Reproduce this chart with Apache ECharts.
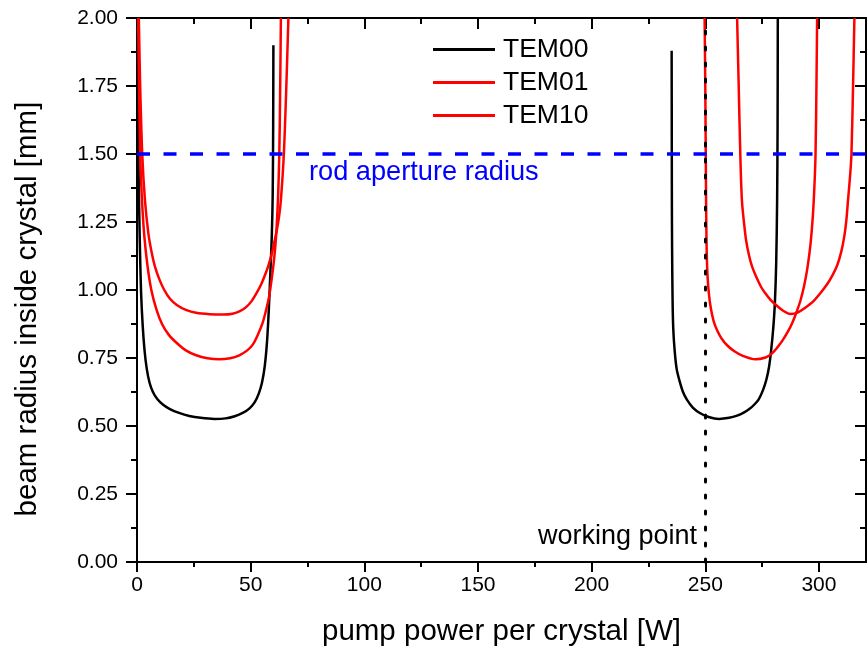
<!DOCTYPE html>
<html><head><meta charset="utf-8">
<script src="https://cdn.jsdelivr.net/npm/echarts@6/dist/echarts.min.js"></script>
<style>html,body{margin:0;padding:0;background:#fff}#c{width:867px;height:649px}</style>
</head><body><div id="c"></div>
<script>
// ---- data ----
const xMajorTicks = [0, 50, 100, 150, 200, 250, 300];
const xMinorTicks = [25, 75, 125, 175, 225, 275];
const seriesNames = ['TEM00', 'TEM01', 'TEM10'];
const apertureRadius = 1.5;
const workingPoint = 250;

const tem00Left = [[0.2,2.0],[0.4,1.7],[0.6,1.5],[0.9,1.33],[1.3,1.15],[1.8,0.99],[2.5,0.87],[3.3,0.78],[4.3,0.71],[5.5,0.66],[7.0,0.625],[9.0,0.598],[11.5,0.578],[14.5,0.562],[18.5,0.548],[23,0.537],[28,0.530],[34,0.526],[39,0.528],[43,0.536],[46.5,0.548],[49.5,0.565],[51.8,0.588],[53.6,0.62],[55.0,0.66],[56.2,0.72],[57.2,0.81],[58.0,0.93],[58.7,1.07],[59.3,1.2],[59.7,1.35],[59.9,1.6],[60.0,1.9]];
const tem00Right = [[235.2,1.88],[235.25,1.6],[235.3,1.33],[235.4,1.15],[235.6,0.97],[235.9,0.86],[236.5,0.78],[237.4,0.71],[238.7,0.665],[240.2,0.625],[241.9,0.597],[244.5,0.568],[247.8,0.547],[251.5,0.533],[256,0.526],[260.5,0.53],[264,0.538],[266.9,0.549],[269.5,0.563],[271.7,0.58],[273.5,0.598],[275.3,0.63],[276.8,0.668],[278.0,0.715],[279.0,0.78],[279.9,0.86],[280.6,0.95],[281.2,1.1],[281.6,1.33],[281.8,1.6],[281.9,2.0]];

const tem01Left = [[0.5,2.0],[0.9,1.75],[1.4,1.5],[2.2,1.33],[3.2,1.2],[4.6,1.09],[6.3,1.0],[8.5,0.93],[11.0,0.875],[14.0,0.835],[17.5,0.805],[21.5,0.778],[26,0.76],[31,0.749],[36,0.745],[41,0.749],[45,0.76],[48.5,0.778],[51.0,0.80],[53.4,0.84],[55.3,0.88],[56.9,0.93],[58.2,0.98],[59.4,1.05],[60.4,1.12],[61.2,1.2],[62.0,1.33],[62.6,1.5],[63.0,1.75],[63.3,2.0]];
const tem01Right = [[249.7,2.0],[250.0,1.75],[250.2,1.5],[250.35,1.33],[250.6,1.15],[251.0,1.05],[251.6,0.985],[252.5,0.93],[253.7,0.885],[255.3,0.85],[257.3,0.82],[259.8,0.795],[262.8,0.775],[266.5,0.758],[272,0.745],[276.5,0.752],[279.5,0.768],[281.8,0.79],[284.0,0.815],[286.2,0.845],[288.3,0.88],[290.2,0.92],[292.0,0.965],[293.6,1.02],[295.0,1.085],[296.3,1.17],[297.3,1.27],[298.0,1.38],[298.5,1.5],[298.9,1.75],[299.2,2.0]];

const tem10Left = [[0.8,2.0],[1.4,1.75],[2.3,1.5],[3.5,1.33],[5.0,1.208],[6.4,1.14],[7.9,1.086],[9.8,1.04],[12.0,1.0],[14.5,0.968],[17.5,0.945],[21.5,0.927],[26,0.916],[32,0.911],[38,0.91],[42,0.913],[45.3,0.922],[48,0.937],[50.5,0.96],[52.7,0.99],[54.6,1.02],[56.3,1.055],[57.8,1.09],[59.2,1.13],[60.5,1.18],[61.5,1.22],[62.5,1.27],[63.3,1.33],[64.6,1.5],[65.7,1.75],[66.6,2.0]];
const tem10Right = [[264.0,2.0],[264.7,1.75],[265.4,1.5],[266.1,1.331],[267.0,1.25],[268.0,1.18],[269.3,1.125],[270.6,1.086],[272.6,1.045],[274.5,1.012],[276.4,0.988],[278.8,0.963],[281.5,0.942],[284.4,0.923],[287.4,0.912],[290.8,0.918],[294.0,0.935],[297.5,0.958],[300.6,0.988],[303.5,1.02],[306.0,1.055],[308.0,1.09],[309.8,1.14],[311.2,1.2],[312.1,1.26],[312.8,1.331],[313.7,1.42],[314.3,1.5],[315.0,1.75],[315.6,2.0]];

// ---- chart ----
const FONT = "'Liberation Sans', Arial, sans-serif";
const X_MAX = 320.7;
const chart = echarts.init(document.getElementById('c'), null, {renderer: 'canvas'});

function xAxisDef(position, ticks, len, inside, showLine, showLabel) {
  return {
    type: 'value', position, min: 0, max: X_MAX, gridIndex: 0,
    axisLine: {show: showLine, onZero: false, lineStyle: {color: '#000', width: 2}},
    axisTick: {show: true, inside, length: len, customValues: ticks, lineStyle: {color: '#000', width: 2}},
    axisLabel: {show: showLabel, customValues: ticks, margin: 13, color: '#000', fontSize: 21, fontFamily: FONT},
    splitLine: {show: false},
    name: (position === 'bottom' && showLabel) ? 'pump power per crystal [W]' : '',
    nameLocation: 'middle', nameGap: 55,
    nameTextStyle: {color: '#000', fontSize: 29.5, fontFamily: FONT}
  };
}
function yAxisDef(position, inside, showLabel) {
  return {
    type: 'value', position, min: 0, max: 2, interval: 0.25, gridIndex: 0,
    axisLine: {show: true, onZero: false, lineStyle: {color: '#000', width: 2}},
    axisTick: {show: true, inside, length: 11, lineStyle: {color: '#000', width: 2}},
    minorTick: {show: true, splitNumber: 2, length: 6, lineStyle: {color: '#000', width: 2}},
    axisLabel: {show: showLabel, margin: 19, color: '#000', fontSize: 21, fontFamily: FONT,
      formatter: v => v.toFixed(2)},
    splitLine: {show: false}, minorSplitLine: {show: false}
  };
}
function curve(name, data, color, z) {
  return {
    type: 'line', name, data, xAxisIndex: 0, yAxisIndex: 0,
    smooth: 0.3, showSymbol: false, symbol: 'none',
    lineStyle: {color, width: 2.5}, itemStyle: {color}, z,
    silent: true, animation: false, clip: true
  };
}

chart.setOption({
  animation: false,
  backgroundColor: '#fff',
  grid: {left: 137, right: 1, top: 18, bottom: 87, containLabel: false, outerBoundsMode: 'none'},
  xAxis: [
    xAxisDef('bottom', xMajorTicks, 10, false, true, true),
    xAxisDef('bottom', xMinorTicks, 5, false, false, false),
    xAxisDef('top', xMajorTicks, 11, true, true, false),
    xAxisDef('top', xMinorTicks, 6, true, false, false)
  ],
  yAxis: [
    yAxisDef('left', false, true),
    yAxisDef('right', true, false)
  ],
  legend: {
    orient: 'vertical', left: 428, top: 31, itemGap: 6,
    itemWidth: 62, itemHeight: 3, icon: 'rect',
    data: seriesNames, selectedMode: false,
    textStyle: {color: '#000', fontSize: 26.5, fontFamily: FONT, padding: [0, 0, 0, 3]}
  },
  series: [
    curve(seriesNames[0], tem00Left, '#000000', 2),
    curve(seriesNames[0], tem00Right, '#000000', 2),
    curve(seriesNames[1], tem01Left, '#ff0000', 3),
    curve(seriesNames[1], tem01Right, '#ff0000', 3),
    curve(seriesNames[2], tem10Left, '#ff0000', 3),
    curve(seriesNames[2], tem10Right, '#ff0000', 3),
    {
      type: 'line', name: 'marks', data: [], xAxisIndex: 0, yAxisIndex: 0, z: 5,
      markLine: {
        symbol: 'none', silent: true, animation: false, label: {show: false},
        data: [
          {yAxis: apertureRadius, lineStyle: {color: '#0000ff', type: [13, 13.5], width: 3.5}},
          {xAxis: workingPoint, lineStyle: {color: '#000', type: [3, 13], width: 3, cap: 'round'}}
        ]
      }
    }
  ],
  graphic: [
    {type: 'text', x: 28, y: 309, rotation: Math.PI / 2, z: 10, style: {text: 'beam radius inside crystal [mm]',
      fill: '#000', fontSize: 29.5, fontFamily: FONT, align: 'center', verticalAlign: 'middle'}},
    {type: 'text', x: 309, y: 173, z: 10, style: {text: 'rod aperture radius', fill: '#0000ff',
      fontSize: 27.2, fontFamily: FONT, align: 'left', verticalAlign: 'middle'}},
    {type: 'text', x: 697, y: 537, z: 10, style: {text: 'working point', fill: '#000',
      fontSize: 27, fontFamily: FONT, align: 'right', verticalAlign: 'middle'}}
  ]
});
</script></body></html>
